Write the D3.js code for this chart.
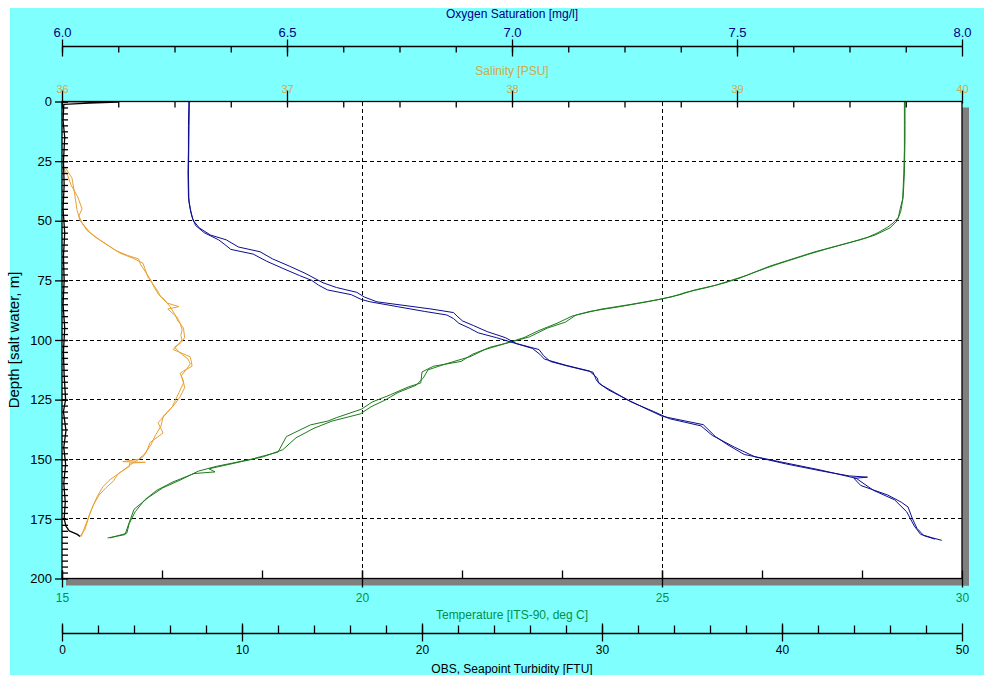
<!DOCTYPE html>
<html>
<head>
<meta charset="utf-8">
<script src="https://cdn.jsdelivr.net/npm/d3@7"></script>
<style>
    body { margin: 0; background: #ffffff; }
    svg { display: block; }
    text { font-family: Arial, "Liberation Sans", sans-serif; }
</style>
</head>
<body>
<div id="chart"></div>
<script>
//Colores fijos
const COLOR_BG = '#80ffff',
COLOR_OXY = '#000080',
COLOR_OXY_LINE = '#0c0c90',
COLOR_TEMP = '#00904a',
COLOR_TEMP_LINE = '#1e7b1e',
COLOR_SAL = '#d4a848',
COLOR_SAL_LINE = '#e8a030',
COLOR_SHADOW = '#7f7f7f';

//Ejes
const depthDomain = [0, 200], depthTicks = [0, 25, 50, 75, 100, 125, 150, 175, 200];
const oxyDomain = [6, 8], oxyTicks = [6.0, 6.5, 7.0, 7.5, 8.0];
const salDomain = [36, 40], salTicks = [36, 37, 38, 39, 40];
const tempDomain = [15, 30], tempTicks = [15, 20, 25, 30];
const turbDomain = [0, 50], turbTicks = [0, 10, 20, 30, 40, 50];

//Datos: [profundidad m, valor] - bajada y subida
const oxyDown = [[0,6.282],[10,6.281],[20,6.281],[30,6.280],[40,6.281],[45,6.285],[49,6.290],[52,6.297],[55,6.316],[58,6.348],[60,6.362],[62,6.375],[64,6.425],[67,6.455],[70,6.491],[73,6.528],[75,6.555],[77,6.570],[79,6.590],[81,6.643],[83,6.665],[84,6.685],[86,6.745],[88,6.805],[89.5,6.855],[91,6.870],[93,6.882],[95,6.905],[97,6.925],[99,6.965],[101,7.000],[103.5,7.045],[106,7.062],[108,7.072],[110.5,7.118],[113,7.172],[116,7.190],[118,7.192],[121,7.215],[125,7.256],[129,7.300],[132,7.334],[135.5,7.425],[140.5,7.452],[144,7.480],[148,7.516],[151,7.594],[154.5,7.685],[158,7.765],[160,7.780],[163,7.803],[167,7.850],[172,7.877],[178,7.894],[181.5,7.908],[183,7.935],[184,7.955]];
const oxyUp = [[0,6.283],[15,6.282],[30,6.281],[42,6.282],[47,6.287],[50,6.292],[53,6.305],[56,6.330],[58,6.365],[61,6.392],[63,6.440],[66,6.468],[69,6.505],[72,6.540],[74,6.560],[76,6.580],[78,6.610],[80,6.655],[82,6.672],[84,6.700],[85.5,6.760],[87,6.820],[88.5,6.870],[90,6.878],[92,6.890],[94,6.915],[96.5,6.945],[99,6.985],[101.5,7.010],[104,7.060],[106.5,7.070],[109,7.085],[111,7.125],[113.5,7.180],[117,7.188],[119,7.200],[122,7.228],[126,7.265],[130,7.315],[133,7.350],[136,7.420],[140,7.445],[145,7.495],[149,7.540],[152,7.610],[155,7.690],[157,7.750],[157.5,7.790],[158,7.760],[161,7.775],[165,7.835],[168,7.865],[170,7.880],[175,7.890],[179,7.900],[182,7.915],[183.5,7.940]];

const tempDown = [[0,29.04],[10,29.04],[20,29.04],[30,29.03],[36,29.02],[41,29.01],[45,28.97],[48.5,28.94],[51,28.85],[52.7,28.76],[55,28.60],[57,28.42],[59,28.15],[61,27.85],[63,27.55],[65,27.30],[67,27.05],[69,26.80],[71,26.60],[73,26.40],[75,26.15],[77,25.90],[79,25.55],[81,25.30],[83,24.95],[85,24.50],[87,24.00],[89.5,23.57],[92.5,23.39],[95,23.09],[98.7,22.79],[100.8,22.49],[103,22.14],[106,21.84],[109,21.65],[111,21.19],[113.4,21.00],[118,20.98],[119.7,20.77],[123,20.47],[126,20.17],[129,19.99],[132.6,19.57],[134,19.43],[135.6,19.14],[140.5,18.74],[147,18.60],[150,18.15],[153,17.57],[155,17.27],[158.6,16.98],[162,16.68],[166,16.44],[171,16.20],[178,16.10],[181.6,16.05],[183,15.76]];
const tempUp = [[0,29.05],[15,29.05],[30,29.04],[40,29.02],[46,28.98],[50,28.92],[53,28.80],[56,28.55],[58,28.30],[60,28.00],[62,27.72],[64,27.45],[66,27.20],[68,26.95],[70,26.72],[72,26.50],[74,26.30],[76,26.05],[78,25.75],[80,25.40],[82,25.15],[84,24.75],[86,24.30],[88,23.80],[90,23.50],[93,23.25],[96,22.95],[99,22.70],[101,22.45],[104,22.05],[107,21.80],[110,21.40],[112.5,21.10],[116,21.02],[119,20.90],[122,20.60],[125,20.40],[128,20.15],[131,19.97],[134,19.50],[137,19.20],[141,18.90],[146,18.68],[149,18.35],[151.5,17.90],[154,17.45],[155.3,17.55],[156,17.20],[159.5,16.85],[163,16.58],[167,16.38],[172,16.22],[177,16.12],[181,16.08],[183,15.80]];

const salDown = [[27.6,36.013],[30,36.030],[32,36.044],[38,36.055],[45.6,36.067],[50,36.080],[55,36.125],[59,36.182],[61,36.215],[63.6,36.258],[65.7,36.316],[67.8,36.360],[70,36.368],[73.6,36.382],[76,36.400],[79,36.422],[82,36.440],[84.5,36.467],[86,36.520],[87,36.470],[90.4,36.511],[93,36.525],[95.8,36.534],[98,36.528],[100,36.534],[102,36.515],[104,36.494],[107,36.569],[109,36.575],[111,36.578],[113,36.540],[114,36.525],[116.7,36.538],[120,36.545],[123.8,36.525],[127,36.500],[130.5,36.467],[134.7,36.427],[139,36.449],[143,36.391],[147,36.375],[149,36.360],[151.5,36.316],[155.6,36.258],[158.6,36.213],[161.5,36.182],[165.7,36.156],[172.4,36.125],[179.5,36.102],[182.4,36.080]];
const salUp = [[28,36.008],[31,36.025],[35,36.040],[40,36.070],[45,36.089],[48,36.075],[51,36.090],[54,36.110],[57,36.150],[60,36.200],[62.5,36.240],[64.5,36.290],[66,36.340],[68.5,36.350],[72,36.375],[75,36.395],[78,36.410],[81,36.430],[83,36.455],[86,36.480],[89,36.500],[92,36.515],[95,36.540],[99,36.545],[101,36.530],[103,36.500],[105,36.520],[108,36.560],[110,36.570],[112,36.555],[115,36.530],[118,36.540],[122,36.520],[125,36.505],[128,36.490],[132,36.450],[136,36.440],[140,36.415],[144,36.395],[148,36.365],[150,36.340],[151,36.270],[151.3,36.370],[151.6,36.300],[153,36.300],[156,36.250],[159,36.230],[162,36.195],[165,36.165],[169,36.140],[175,36.115],[180,36.095],[182.5,36.085]];

const turb = [[0,0.1],[0.3,3.1],[0.7,1.5],[1.2,0.1],[8,0.06],[15,0.15],[25,0.08],[35,0.12],[45,0.06],[55,0.15],[65,0.08],[75,0.12],[85,0.06],[95,0.15],[105,0.08],[115,0.12],[125,0.2],[130,0.08],[138,0.22],[145,0.1],[152,0.2],[160,0.1],[168,0.18],[175,0.12],[178,0.22],[180,0.4],[181.5,0.85],[182.4,1.0]];

//Dimensiones
let margin = {top: 101.5, right: 22, bottom: 96.5, left: 62},
    fullWidth = 984, fullHeight = 675,
    width = fullWidth - margin.left - margin.right,
    height = fullHeight - margin.top - margin.bottom;

let svg = d3.select('#chart')
    .append('svg')
      .attr('width', fullWidth)
      .attr('height', fullHeight);

//Fondo
svg.append('rect')
    .attr('x', 10).attr('y', 8)
    .attr('width', fullWidth - 10).attr('height', fullHeight - 8)
    .attr('fill', COLOR_BG);

let g = svg.append('g')
    .attr('transform', 'translate(' + margin.left + ',' + margin.top + ')');

//Escalas
let y = d3.scaleLinear().domain(depthDomain).range([0, height]);
let xOxy = d3.scaleLinear().domain(oxyDomain).range([0, width]);
let xSal = d3.scaleLinear().domain(salDomain).range([0, width]);
let xTemp = d3.scaleLinear().domain(tempDomain).range([0, width]);
let xTurb = d3.scaleLinear().domain(turbDomain).range([0, width]);

//Sombra y área
g.append('rect').attr('x', width).attr('y', 6).attr('width', 7).attr('height', height + 1).attr('fill', COLOR_SHADOW);
g.append('rect').attr('x', 4).attr('y', height).attr('width', width + 3).attr('height', 7).attr('fill', COLOR_SHADOW);
g.append('rect').attr('width', width).attr('height', height).attr('fill', '#ffffff');

//Rejilla
g.append('g')
    .selectAll('line')
    .data(depthTicks.filter(function(d) { return d > 0 && d < 200; }))
    .enter()
    .append('line')
      .attr('x1', 0).attr('x2', width)
      .attr('y1', function(d) { return y(d); }).attr('y2', function(d) { return y(d); })
      .attr('stroke', '#000').attr('stroke-dasharray', '4,3').attr('shape-rendering', 'crispEdges');

g.append('g')
    .selectAll('line')
    .data([20, 25])
    .enter()
    .append('line')
      .attr('x1', function(d) { return xTemp(d); }).attr('x2', function(d) { return xTemp(d); })
      .attr('y1', 0).attr('y2', height)
      .attr('stroke', '#000').attr('stroke-dasharray', '4,3').attr('shape-rendering', 'crispEdges');

//Curvas
g.append('clipPath').attr('id', 'clip').append('rect').attr('width', width).attr('height', height);
let curves = g.append('g').attr('clip-path', 'url(#clip)');

function drawCurve(data, xs, color, w) {
    curves.append('path')
        .datum(data)
        .attr('fill', 'none')
        .attr('stroke', color)
        .attr('stroke-width', w)
        .attr('stroke-linejoin', 'round')
        .attr('d', d3.line().x(function(d) { return xs(d[1]); }).y(function(d) { return y(d[0]); }));
}

drawCurve(salDown, xSal, COLOR_SAL_LINE, 1);
drawCurve(salUp, xSal, COLOR_SAL_LINE, 1);
drawCurve(tempDown, xTemp, COLOR_TEMP_LINE, 1);
drawCurve(tempUp, xTemp, COLOR_TEMP_LINE, 1);
drawCurve(oxyDown, xOxy, COLOR_OXY_LINE, 1);
drawCurve(oxyUp, xOxy, COLOR_OXY_LINE, 1);
drawCurve(turb, xTurb, '#000000', 1.3);

//Borde
g.append('rect').attr('width', width).attr('height', height)
    .attr('fill', 'none').attr('stroke', '#000').attr('stroke-width', 1.3);

//Función de ejes con marcas mayores cruzadas
function styleAxis(sel, color, fontSize) {
    sel.select('.domain').remove();
    sel.selectAll('line').attr('stroke', '#000').attr('stroke-width', 1.3);
    sel.selectAll('text').attr('fill', color).attr('font-size', fontSize);
}

//Eje profundidad
let yAxis = g.append('g')
    .call(d3.axisLeft(y).tickValues(depthTicks).tickSize(7).tickPadding(3).tickSizeOuter(0))
    .call(styleAxis, '#000', 13);
yAxis.selectAll('line').attr('x1', 6);
g.append('g')
    .call(d3.axisRight(y).tickValues(d3.range(0, 200, 2.5)).tickSize(6).tickFormat('').tickSizeOuter(0))
    .call(styleAxis, '#000', 13);

svg.append('text')
    .attr('transform', 'translate(19,' + (margin.top + height / 2) + ') rotate(-90)')
    .attr('text-anchor', 'middle')
    .attr('font-size', 15)
    .attr('fill', '#000')
    .text('Depth [salt water, m]');

//Eje salinidad (borde superior)
let salAxis = g.append('g')
    .call(d3.axisTop(xSal).tickValues(salTicks).tickSize(11).tickPadding(-2).tickFormat(d3.format('d')).tickSizeOuter(0))
    .call(styleAxis, COLOR_SAL, 11);
salAxis.selectAll('line').attr('y1', 2);
g.append('g')
    .call(d3.axisBottom(xSal).tickValues(d3.range(36, 40, 0.25)).tickSize(6).tickFormat('').tickSizeOuter(0))
    .call(styleAxis, '#000', 11);
svg.append('text')
    .attr('x', margin.left + width / 2).attr('y', 75)
    .attr('text-anchor', 'middle').attr('font-size', 12).attr('fill', COLOR_SAL)
    .text('Salinity [PSU]');

//Eje oxígeno
let oxyG = svg.append('g').attr('transform', 'translate(' + margin.left + ',46.5)');
oxyG.append('line').attr('x1', 0).attr('x2', width).attr('stroke', '#000').attr('stroke-width', 1.3);
oxyG.append('g')
    .call(d3.axisTop(xOxy).tickValues(oxyTicks).tickSize(7).tickPadding(3).tickFormat(d3.format('.1f')).tickSizeOuter(0))
    .call(styleAxis, COLOR_OXY, 13)
    .selectAll('line').attr('y1', 10);
oxyG.append('g')
    .call(d3.axisBottom(xOxy).tickValues(d3.range(6, 8, 0.125)).tickSize(6).tickFormat('').tickSizeOuter(0))
    .call(styleAxis, '#000', 13);
svg.append('text')
    .attr('x', margin.left + width / 2).attr('y', 18)
    .attr('text-anchor', 'middle').attr('font-size', 12).attr('fill', COLOR_OXY)
    .text('Oxygen Saturation [mg/l]');

//Eje temperatura (borde inferior)
let tempG = g.append('g').attr('transform', 'translate(0,' + height + ')');
tempG.append('g')
    .call(d3.axisBottom(xTemp).tickValues(tempTicks).tickSize(9).tickPadding(6).tickSizeOuter(0))
    .call(styleAxis, COLOR_TEMP, 12)
    .selectAll('line').attr('y1', -8);
tempG.append('g')
    .call(d3.axisTop(xTemp).tickValues(d3.range(15, 30, 5 / 3)).tickSize(8).tickFormat('').tickSizeOuter(0))
    .call(styleAxis, '#000', 12);
svg.append('text')
    .attr('x', margin.left + width / 2).attr('y', 619)
    .attr('text-anchor', 'middle').attr('font-size', 12).attr('fill', COLOR_TEMP)
    .text('Temperature [ITS-90, deg C]');

//Eje turbidez
let turbG = svg.append('g').attr('transform', 'translate(' + margin.left + ',633.5)');
turbG.append('line').attr('x1', 0).attr('x2', width).attr('stroke', '#000').attr('stroke-width', 1.3);
turbG.append('g')
    .call(d3.axisBottom(xTurb).tickValues(turbTicks).tickSize(8).tickPadding(4).tickSizeOuter(0))
    .call(styleAxis, '#000', 12)
    .selectAll('line').attr('y1', -10);
turbG.append('g')
    .call(d3.axisTop(xTurb).tickValues(d3.range(0, 50, 2)).tickSize(8).tickFormat('').tickSizeOuter(0))
    .call(styleAxis, '#000', 12);
svg.append('text')
    .attr('x', margin.left + width / 2).attr('y', 673)
    .attr('text-anchor', 'middle').attr('font-size', 12).attr('fill', '#000')
    .text('OBS, Seapoint Turbidity [FTU]');
</script>
</body>
</html>
